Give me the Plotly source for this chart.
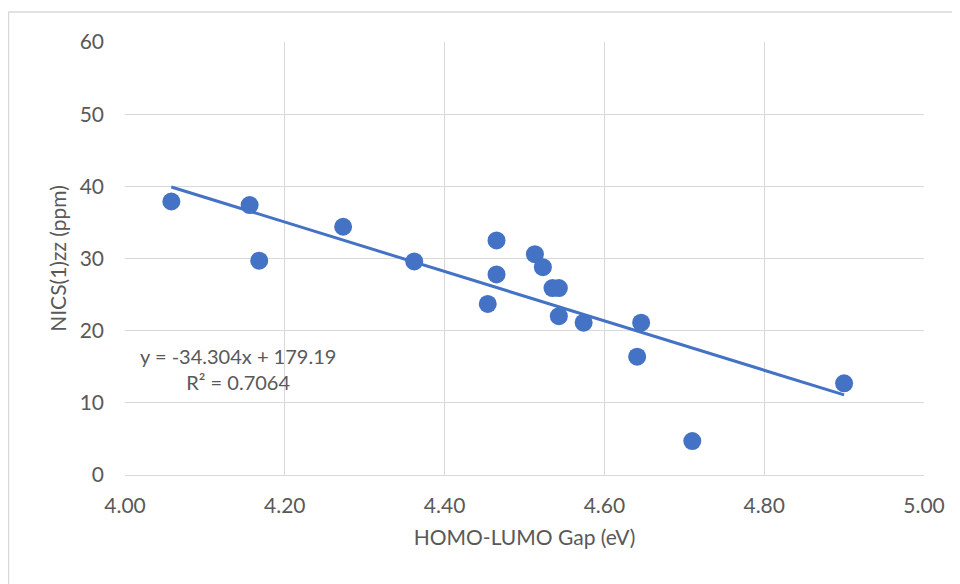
import numpy as np
import plotly.graph_objects as go

# Data
gap_ev = [4.058, 4.156, 4.168, 4.273, 4.362, 4.465, 4.465, 4.454, 4.513,
          4.523, 4.535, 4.543, 4.543, 4.574, 4.646, 4.641, 4.710, 4.900]
nics_ppm = [37.9, 37.4, 29.7, 34.4, 29.6, 32.5, 27.8, 23.7, 30.6,
            28.8, 25.9, 25.9, 22.0, 21.1, 21.1, 16.4, 4.7, 12.7]

x_ticks = [4.00, 4.20, 4.40, 4.60, 4.80, 5.00]
y_ticks = [0, 10, 20, 30, 40, 50, 60]

eq_text = "y = -34.304x + 179.19<br>R² = 0.7064"

BLUE = "#4472C4"
GRID = "#d9d9d9"
TXT = "#595959"
FONT = "Lato"

x = np.array(gap_ev)
y = np.array(nics_ppm)
slope, intercept = np.polyfit(x, y, 1)
xt = np.array([x.min(), x.max()])
yt = slope * xt + intercept

# page is offset by the 8px body margin, so margins are compensated
L, R, T, B = 117, 44, 34, 117
PW = 960 - L - R
PH = 584 - T - B

fig = go.Figure()
fig.add_trace(go.Scatter(x=xt, y=yt, mode="lines",
                         line=dict(color=BLUE, width=3),
                         hoverinfo="skip", showlegend=False))
fig.add_trace(go.Scatter(x=gap_ev, y=nics_ppm, mode="markers",
                         marker=dict(color=BLUE, size=18,
                                     line=dict(width=0)),
                         showlegend=False))

fig.update_layout(
    width=960, height=584,
    margin=dict(l=L, r=R, t=T, b=B),
    paper_bgcolor="white", plot_bgcolor="white",
    font=dict(family=FONT, color=TXT, size=19),
    showlegend=False,
    xaxis=dict(range=[4, 5], tickvals=x_ticks,
               ticktext=[f"{v:.2f}" for v in x_ticks],
               showgrid=True, gridcolor=GRID, gridwidth=1,
               zeroline=False, showline=True, linecolor=GRID, linewidth=1,
               ticks="", ticklabelstandoff=12,
               tickfont=dict(size=21, color=TXT, family=FONT),
               title=dict(text="HOMO-LUMO Gap (eV)", standoff=14,
                          font=dict(size=21, color=TXT, family=FONT))),
    yaxis=dict(range=[0, 60], tickvals=y_ticks,
               showgrid=True, gridcolor=GRID, gridwidth=1,
               zeroline=False, showline=False, ticks="",
               ticklabelstandoff=20,
               tickfont=dict(size=21, color=TXT, family=FONT),
               title=dict(text="NICS(1)zz (ppm)", standoff=7,
                          font=dict(size=21, color=TXT, family=FONT))),
    shapes=[
        dict(type="line", xref="paper", yref="paper",
             x0=(0 - L) / PW, x1=1.1, y0=(PH + T - 4) / PH, y1=(PH + T - 4) / PH,
             line=dict(color=GRID, width=1.5)),
        dict(type="line", xref="paper", yref="paper",
             x0=(0.5 - L) / PW, x1=(0.5 - L) / PW,
             y0=(PH + T - 4) / PH, y1=-0.4,
             line=dict(color=GRID, width=1.5)),
    ],
    annotations=[
        dict(text=eq_text, xref="paper", yref="paper",
             x=(230 - L) / PW, y=(PH + T - 360.5) / PH,
             xanchor="center", yanchor="middle", showarrow=False,
             align="center", font=dict(size=20, color=TXT, family=FONT)),
    ],
)

fig.write_html("out.html")
